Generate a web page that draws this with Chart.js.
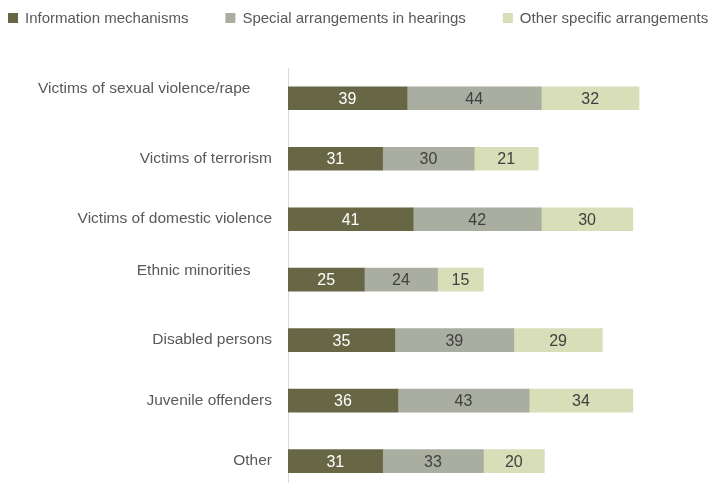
<!DOCTYPE html>
<html>
<head>
<meta charset="utf-8">
<script src="https://cdn.jsdelivr.net/npm/chart.js@4"></script>
<style>
    html, body { margin: 0; padding: 0; background: #fff; overflow: hidden; }
    canvas { display: block; }
</style>
</head>
<body>
<canvas id="chart" width="712" height="526"></canvas>
<script>
// Data
const categories = [
    'Victims of sexual violence/rape',
    'Victims of terrorism',
    'Victims of domestic violence',
    'Ethnic minorities',
    'Disabled persons',
    'Juvenile offenders',
    'Other'
];
const seriesNames = ['Information mechanisms', 'Special arrangements in hearings', 'Other specific arrangements'];
const infoMechanisms = [39, 31, 41, 25, 35, 36, 31];
const specialHearings = [44, 30, 42, 24, 39, 43, 33];
const otherArrangements = [32, 21, 30, 15, 29, 34, 20];

const FONT = "'Liberation Sans', Arial, sans-serif";
const colors = ['#676746', '#a9aea0', '#d8deb7'];
const labelColors = ['#ffffff', '#404040', '#404040'];
// in the original two of the labels sit higher and further left than the rest
const raised = [0, 3];

// numbers inside each bar segment
const barLabels = {
    id: 'barLabels',
    afterDatasetsDraw(chart) {
        const ctx = chart.ctx;
        ctx.save();
        ctx.font = '16px ' + FONT;
        ctx.textAlign = 'center';
        ctx.textBaseline = 'middle';
        chart.data.datasets.forEach((ds, i) => {
            const meta = chart.getDatasetMeta(i);
            meta.data.forEach((bar, j) => {
                ctx.fillStyle = labelColors[i];
                ctx.fillText(ds.data[j], (bar.x + bar.base) / 2, bar.y + 1);
            });
        });
        ctx.restore();
    }
};

// legend row at the top, left aligned
const topLegend = {
    id: 'topLegend',
    afterDraw(chart) {
        const ctx = chart.ctx;
        ctx.save();
        ctx.font = '15px ' + FONT;
        ctx.textBaseline = 'middle';
        let x = 8;
        const y = 18;
        chart.data.datasets.forEach((ds) => {
            ctx.fillStyle = ds.backgroundColor;
            ctx.fillRect(x, y - 5, 10, 10);
            x += 17;
            ctx.fillStyle = '#595959';
            ctx.fillText(ds.label, x, y + 1);
            x += ctx.measureText(ds.label).width + 37;
        });
        ctx.restore();
    }
};

new Chart(document.getElementById('chart'), {
    type: 'bar',
    data: {
        labels: categories.map((c, i) => raised.includes(i) ? [c + '     ', ''] : c),
        datasets: [
            { label: seriesNames[0], data: infoMechanisms, backgroundColor: colors[0] },
            { label: seriesNames[1], data: specialHearings, backgroundColor: colors[1] },
            { label: seriesNames[2], data: otherArrangements, backgroundColor: colors[2] }
        ]
    },
    options: {
        indexAxis: 'y',
        responsive: false,
        animation: false,
        layout: { padding: { left: 0, right: 12, top: 68, bottom: 0 } },
        datasets: { bar: { barThickness: 23 } },
        plugins: {
            tooltip: { enabled: false },
            legend: { display: false }
        },
        scales: {
            x: {
                stacked: true,
                min: 0,
                max: 135,
                display: false
            },
            y: {
                stacked: true,
                grid: { display: false, drawTicks: false },
                border: { color: '#d9d9d9', width: 1 },
                ticks: {
                    font: { family: FONT, size: 15.5 },
                    color: '#595959',
                    padding: 16
                },
                afterFit(scale) { scale.width = 288; }
            }
        }
    },
    plugins: [barLabels, topLegend]
});
</script>
</body>
</html>
